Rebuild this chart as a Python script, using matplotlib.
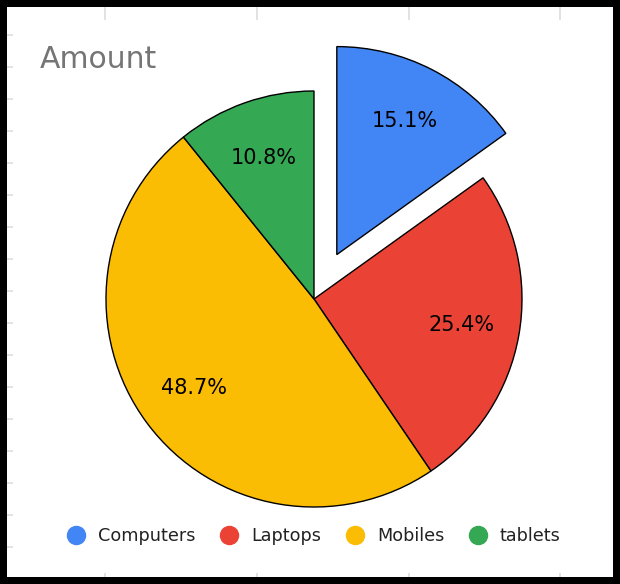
import matplotlib.pyplot as plt
from matplotlib.lines import Line2D

labels = ["Computers", "Laptops", "Mobiles", "tablets"]
amounts = [15.1, 25.4, 48.7, 10.8]
colors = ["#4285F4", "#EA4335", "#FBBC04", "#34A853"]
explode = [0.24, 0, 0, 0]

W, H = 620, 584
R = 208
fig = plt.figure(figsize=(W / 100, H / 100), dpi=100)
fig.patch.set_facecolor("black")

# white panel inside the black frame, with faint ticks along its edges
bg = fig.add_axes([7 / W, 7 / H, 606 / W, 570 / H])
bg.set_facecolor("white")
bg.set_xlim(7, 613)
bg.set_ylim(577, 7)
for s in bg.spines.values():
    s.set_visible(False)
bg.xaxis.remove_overlapping_locs = False
bg.set_xticks([105, 257, 409, 560])
bg.set_xticks([105, 257, 409, 560], minor=True)
bg.set_yticks(range(35, 560, 32))
bg.tick_params(axis="x", which="major", direction="in", top=True, bottom=False,
               length=9, width=1.2, color="#dddddd", labelbottom=False, labeltop=False)
bg.tick_params(axis="x", which="minor", direction="in", top=False, bottom=True,
               length=3, width=1.2, color="#dddddd")
bg.tick_params(axis="y", direction="in", left=True, length=4, width=1.2,
               color="#dddddd", labelleft=False)

ax = fig.add_axes([0, 0, 1, 1])
ax.patch.set_alpha(0)
wedges, texts, autotexts = ax.pie(
    amounts, colors=colors, explode=[e * R for e in explode], startangle=90,
    counterclock=False, center=(314, H - 299), radius=R, autopct="%1.1f%%",
    pctdistance=0.72, wedgeprops=dict(edgecolor="black", linewidth=1),
    textprops=dict(fontsize=15, color="black"))
ax.set_xlim(0, W)
ax.set_ylim(0, H)
ax.set_aspect("auto")
ax.axis("off")

fig.text(40 / W, 1 - 59 / H, "Amount", fontsize=21.5, color="#757575",
         ha="left", va="center")

handles = [Line2D([], [], linestyle="none", marker="o", markersize=13,
                  markerfacecolor=c, markeredgecolor=c) for c in colors]
leg = fig.legend(handles, labels, loc="center", ncol=4,
                 bbox_to_anchor=(314 / W, 1 - 536 / H), frameon=False,
                 fontsize=12.7, handlelength=1.0, handletextpad=0.74,
                 columnspacing=1.42, borderaxespad=0)
for t in leg.get_texts():
    t.set_color("#222222")

fig.savefig("out.png", dpi=100, facecolor=fig.get_facecolor())
